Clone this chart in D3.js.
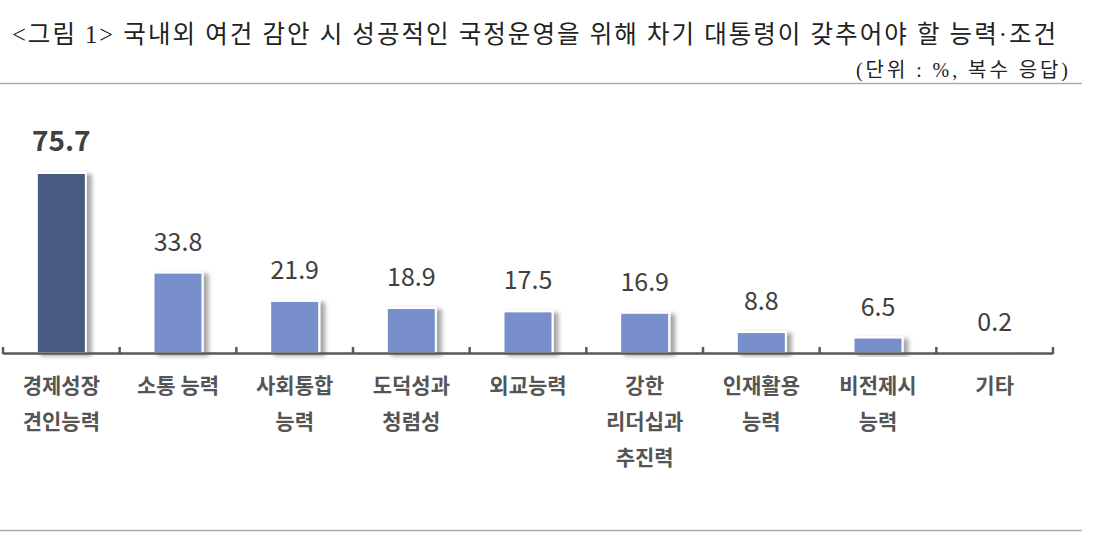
<!DOCTYPE html>
<html>
<head>
  <meta charset="utf-8">
  <script src="https://d3js.org/d3.v7.min.js"></script>
  <style>
    body { margin:0; background:#fff; }
    .title { font-family: "Liberation Serif", "Noto Sans CJK KR", serif; fill:#222; }
    .cat { font-family: "Noto Sans CJK KR", sans-serif; font-weight:700; fill:#555; font-size:21px; }
    .val { font-family: "Noto Sans CJK KR", "Open Sans", sans-serif; fill:#404040; }
  </style>
</head>
<body>
  <script>
    var W = 1095, H = 540;

    var categories = ["경제성장 견인능력", "소통 능력", "사회통합 능력", "도덕성과 청렴성", "외교능력",
                      "강한 리더십과 추진력", "인재활용 능력", "비전제시 능력", "기타"];
    var labelLines = [["경제성장", "견인능력"], ["소통 능력"], ["사회통합", "능력"], ["도덕성과", "청렴성"],
                      ["외교능력"], ["강한", "리더십과", "추진력"], ["인재활용", "능력"], ["비전제시", "능력"], ["기타"]];
    var values = [75.7, 33.8, 21.9, 18.9, 17.5, 16.9, 8.8, 6.5, 0.2];

    var darkColor = "#4a5a80";
    var barColor = "#788fcb";

    var svg = d3.select("body").append("svg")
        .attr("width", W)
        .attr("height", H);

    var defs = svg.append("defs");
    var f = defs.append("filter").attr("id", "shadow")
        .attr("x", "-20%").attr("y", "-20%").attr("width", "160%").attr("height", "140%");
    f.append("feDropShadow")
        .attr("dx", 5).attr("dy", 2).attr("stdDeviation", 2)
        .attr("flood-color", "#000").attr("flood-opacity", 0.35);

    // title & unit
    svg.append("text").attr("class", "title")
        .attr("x", 12).attr("y", 43)
        .attr("font-size", 24.5)
        .attr("textLength", 1044)
        .attr("lengthAdjust", "spacing")
        .text("<그림 1> 국내외 여건 감안 시 성공적인 국정운영을 위해 차기 대통령이 갖추어야 할 능력·조건");
    svg.append("text").attr("class", "title")
        .attr("x", 856).attr("y", 77)
        .attr("font-size", 20)
        .attr("textLength", 212)
        .attr("lengthAdjust", "spacing")
        .text("(단위 : %, 복수 응답)");

    svg.append("line").attr("x1", 0).attr("x2", 1082).attr("y1", 83.5).attr("y2", 83.5)
        .attr("stroke", "#aaa").attr("stroke-width", 1.5);
    svg.append("line").attr("x1", 0).attr("x2", 1082).attr("y1", 530.5).attr("y2", 530.5)
        .attr("stroke", "#aaa").attr("stroke-width", 1.5);

    var x = d3.scaleBand()
        .domain(categories)
        .range([3, 1053])
        .paddingInner(0.58)
        .paddingOuter(0.29);
    var step = x.step();
    var y = d3.scaleLinear()
        .domain([0, 75.7])
        .range([353, 173]);

    // bars
    svg.selectAll(".bar")
        .data(values)
        .enter().append("rect")
        .attr("class", "bar")
        .attr("x", (d, i) => x(categories[i]))
        .attr("width", x.bandwidth())
        .attr("y", d => y(d))
        .attr("height", d => Math.max(0.8, y(0) - y(d)))
        .attr("fill", (d, i) => i === 0 ? darkColor : barColor)
        .attr("stroke", "#fff")
        .attr("stroke-width", 2)
        .attr("filter", "url(#shadow)");

    // axis line with boundary ticks
    var axisG = svg.append("g");
    axisG.append("line")
        .attr("x1", 3).attr("x2", 1053)
        .attr("y1", y(0) + 0.5).attr("y2", y(0) + 0.5)
        .attr("stroke", "#595959").attr("stroke-width", 2.5);
    axisG.selectAll(".tick")
        .data(d3.range(categories.length + 1))
        .enter().append("line")
        .attr("x1", i => 3 + i * step).attr("x2", i => 3 + i * step)
        .attr("y1", y(0) - 6).attr("y2", y(0) + 1)
        .attr("stroke", "#595959").attr("stroke-width", 2.5);

    // value labels
    svg.selectAll(".val")
        .data(values)
        .enter().append("text")
        .attr("class", "val")
        .attr("x", (d, i) => x(categories[i]) + x.bandwidth() / 2)
        .attr("y", d => y(d) - 22)
        .attr("text-anchor", "middle")
        .attr("font-size", (d, i) => i === 0 ? 28 : 25)
        .attr("font-weight", (d, i) => i === 0 ? 700 : 400)
        .text(d => d.toFixed(1));

    // category labels
    var cats = svg.selectAll(".cat")
        .data(labelLines)
        .enter().append("text")
        .attr("class", "cat")
        .attr("text-anchor", "middle");
    cats.selectAll("tspan")
        .data((d, i) => d.map(s => ({ s: s, i: i })))
        .enter().append("tspan")
        .attr("x", d => x(categories[d.i]) + x.bandwidth() / 2)
        .attr("y", (d, j) => 393 + j * 36)
        .text(d => d.s);
  </script>
</body>
</html>
